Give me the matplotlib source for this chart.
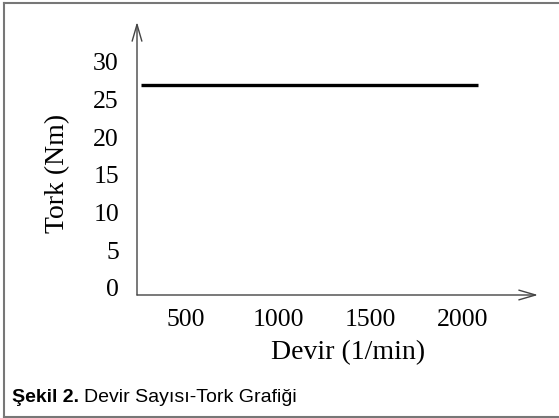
import matplotlib
matplotlib.use('Agg')
import matplotlib.pyplot as plt
from matplotlib.lines import Line2D

# Data
rpm = [255, 2085]
torque = [27, 27]
x_ticks = [500, 1000, 1500, 2000]
y_ticks = [0, 5, 10, 15, 20, 25, 30]

W, H = 559, 418
fig = plt.figure(figsize=(W / 100, H / 100), dpi=100)

# axes box in pixel coords: x 137..538, y 22..295 (from top)
ax = fig.add_axes([137 / W, 1 - 295 / H, (538 - 137) / W, (295 - 22) / H])
ax.plot(rpm, torque, color='black', lw=2.4, solid_capstyle='butt')

ax.set_xlim(233, 2410)
ax.set_ylim(-0.93, 35.3)

serif = ['Liberation Serif', 'DejaVu Serif']
ax.set_xticks(x_ticks)
ax.set_yticks(y_ticks)
ax.set_xticklabels([str(v) for v in x_ticks], family=serif, fontsize=18.5)
ax.set_yticklabels([str(v) for v in y_ticks], family=serif, fontsize=18.5)
ax.tick_params(axis='both', length=0)
ax.tick_params(axis='x', pad=10)
ax.tick_params(axis='y', pad=13)
for s in ax.spines.values():
    s.set_visible(False)

# axis arrows
arrow = dict(arrowstyle='->,head_length=1.2,head_width=0.35', color='#444444', lw=1.0,
             shrinkA=0, shrinkB=0)
ax.annotate('', xy=(1, 0), xytext=(0, 0), xycoords='axes fraction', arrowprops=arrow)
ax.annotate('', xy=(0, 1), xytext=(0, 0), xycoords='axes fraction', arrowprops=arrow)

fig.text(58 / W, 1 - 173 / H, 'Tork (Nm)', rotation=90, ha='center', va='center',
         family=serif, fontsize=20)
fig.text(348 / W, 1 - 353 / H, 'Devir (1/min)', ha='center', va='center',
         family=serif, fontsize=20)

# caption
cap = ['Liberation Sans Narrow', 'Liberation Sans', 'DejaVu Sans']
t = fig.text(12 / W, 1 - 396 / H, 'Şekil 2.', ha='left', va='center_baseline',
             family=cap, fontsize=14, fontweight='bold')
fig.canvas.draw()
bb = t.get_window_extent()
fig.text((bb.x1 + 5) / W, 1 - 396 / H, 'Devir Sayısı-Tork Grafiği', ha='left', va='center_baseline',
         family=cap, fontsize=14)

# outer frame
fc = '#777777'
fig.add_artist(Line2D([4 / W, 4 / W], [1 - 3 / H, 1 - 417 / H], transform=fig.transFigure, color=fc, lw=1.5))
fig.add_artist(Line2D([4 / W, 1], [1 - 3 / H, 1 - 3 / H], transform=fig.transFigure, color=fc, lw=1.5))
fig.add_artist(Line2D([4 / W, 1], [1 - 417 / H, 1 - 417 / H], transform=fig.transFigure, color=fc, lw=1.5))

fig.savefig('out.png', dpi=100)
